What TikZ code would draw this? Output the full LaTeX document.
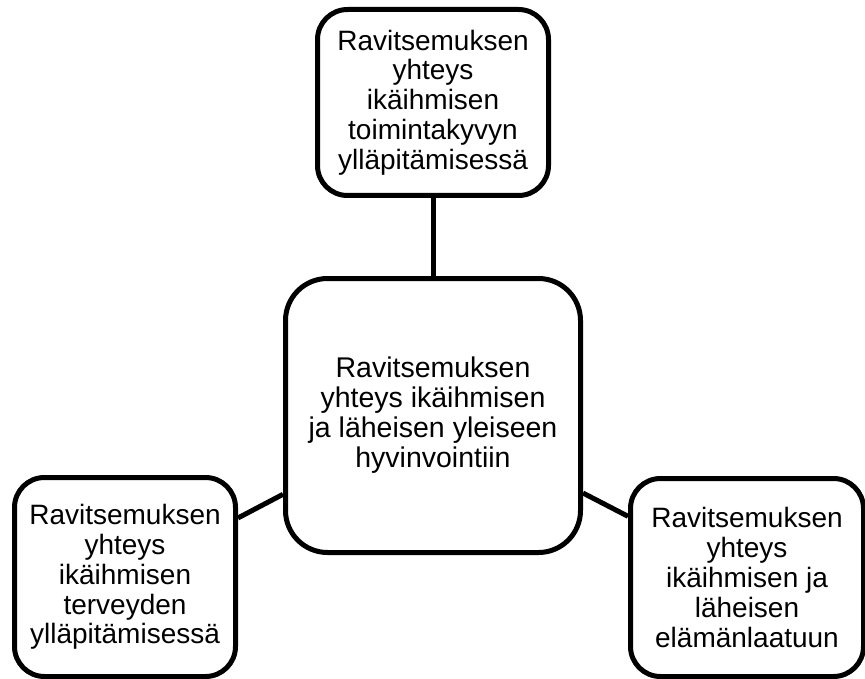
\documentclass[tikz,border=0pt]{standalone}
\usepackage{fontspec}
\setmainfont{Liberation Sans}
\begin{document}
\begin{tikzpicture}[x=1pt,y=-1pt,
  box/.style={draw=black, line width=5pt, fill=white, align=center,
    inner sep=0pt, rounded corners=30pt,
    font=\fontsize{28}{29.8}\selectfont},
  link/.style={draw=black, line width=5pt}]
\useasboundingbox (0,0) rectangle (865,679);

\node[box, minimum width=231pt, minimum height=186pt] (top) at (433,102.5)
  {Ravitsemuksen\\yhteys\\ikäihmisen\\toimintakyvyn\\ylläpitämisessä};
\node[box, rounded corners=42pt, minimum width=295pt, minimum height=274pt,
  font=\fontsize{28.5}{30}\selectfont] (mid) at (433,415.5)
  {Ravitsemuksen\\yhteys ikäihmisen\\ja läheisen yleiseen\\hyvinvointiin};
\node[box, minimum width=221pt, minimum height=199pt] (left) at (125,577)
  {Ravitsemuksen\\yhteys\\ikäihmisen\\terveyden\\ylläpitämisessä};
\node[box, minimum width=233pt, minimum height=198pt] (right) at (747,577.5)
  {Ravitsemuksen\\yhteys\\ikäihmisen ja\\läheisen\\elämänlaatuun};

\draw[link] (mid) -- (top);
\draw[link] (mid) -- (left);
\draw[link] (mid) -- (right);
\end{tikzpicture}
\end{document}
